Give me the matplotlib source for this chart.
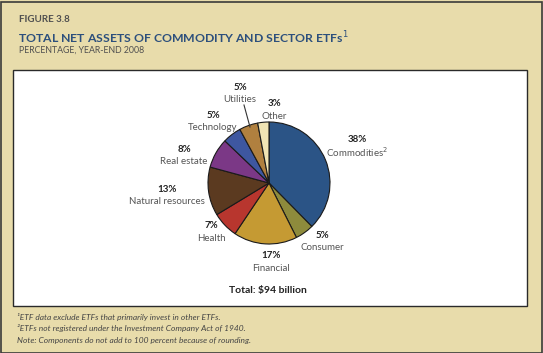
import matplotlib
matplotlib.use("Agg")
import matplotlib.pyplot as plt
from matplotlib.patches import Rectangle

plt.rcParams['font.family'] = ['Lato', 'DejaVu Sans']

sectors = ["Commodities", "Consumer", "Financial", "Health", "Natural resources",
           "Real estate", "Technology", "Utilities", "Other"]
shares = [38, 5, 17, 7, 13, 8, 5, 5, 3]
colors = ["#2b5486", "#8e8b3c", "#c59a33", "#b8362e", "#5b3a20",
          "#7b3886", "#3e57a0", "#b0803f", "#f0e4b4"]
label_text = ["Commodities$^{2}$", "Consumer", "Financial", "Health", "Natural resources",
              "Real estate", "Technology", "Utilities", "Other"]
# label anchor positions in pixel coords (x, y from top)
label_pos = [(357, 140), (322, 235), (271, 256), (211, 226), (167, 189),
             (184, 149), (213, 115), (240, 87), (274, 104)]

W, H = 543, 353
fig = plt.figure(figsize=(W / 100, H / 100), dpi=100)
fig.patch.set_facecolor("#e8dcab")
ax = fig.add_axes([0, 0, 1, 1])
ax.set_axis_off()

# outer frame and white panel
ax.add_patch(Rectangle((0.5, 0.5), W - 2, H - 2, facecolor="none", edgecolor="#3a3a3a", lw=1.2))
ax.add_patch(Rectangle((13, H - 306), 514, 236, facecolor="white", edgecolor="#2a2a2a", lw=1.0))

ax.pie(shares, colors=colors, startangle=90, counterclock=False,
       center=(269, H - 183), radius=61,
       wedgeprops=dict(edgecolor="#1a1a1a", linewidth=0.8))
ax.set_xlim(0, W)
ax.set_ylim(0, H)
ax.set_aspect("equal")

for pct, name, (x, y) in zip(shares, label_text, label_pos):
    ax.text(x, H - y, f"{pct}%", ha="center", va="center", fontsize=7,
            fontweight="bold", color="#222222")
    ax.text(x, H - y - 12.5, name, ha="center", va="center", fontsize=7,
            color="#555555")

# leader line for Utilities
ax.plot([244, 250], [H - 105, H - 127], color="#333333", lw=0.8)

ax.text(19, H - 20, "FIGURE 3.8", fontsize=7, fontweight="bold", color="#505050",
        va="center", ha="left")
ax.text(18, H - 38, "TOTAL NET ASSETS OF COMMODITY AND SECTOR ETFs$^{1}$", fontsize=8.8,
        fontweight="bold", color="#2c4f7c", va="center", ha="left")
ax.text(19, H - 50, "PERCENTAGE, YEAR-END 2008", fontsize=6.3, color="#505050",
        va="center", ha="left")

ax.text(268, H - 290, "Total: $94 billion", fontsize=7.5, fontweight="bold",
        color="#222222", ha="center", va="center")

notes = ["¹ETF data exclude ETFs that primarily invest in other ETFs.",
         "²ETFs not registered under the Investment Company Act of 1940.",
         "Note: Components do not add to 100 percent because of rounding."]
for i, note in enumerate(notes):
    ax.text(17, H - 317 - i * 11.5, note, fontsize=6, style="italic",
            color="#454545", ha="left", va="center")

fig.savefig("out.png", dpi=100, facecolor=fig.get_facecolor())
